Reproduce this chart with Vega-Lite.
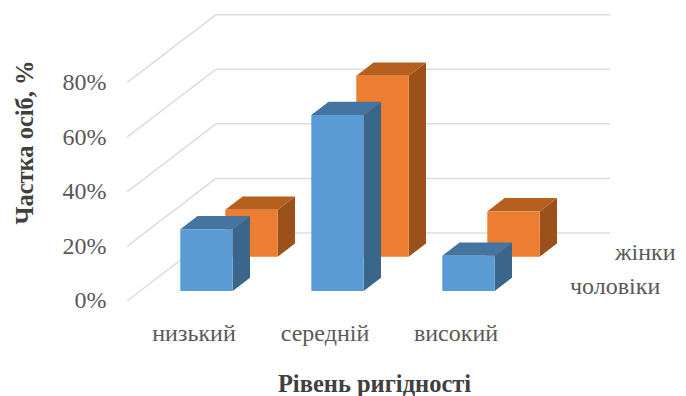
{
  "$schema": "https://vega.github.io/schema/vega-lite/v6.json",
  "width": 686,
  "height": 396,
  "padding": 0,
  "autosize": {"type": "none"},
  "background": "white",
  "config": {"view": {"stroke": null}},
  "datasets": {
    "bars": [
      {"category": "низький", "series": "чоловіки", "value": 22.6},
      {"category": "середній", "series": "чоловіки", "value": 64.5},
      {"category": "високий", "series": "чоловіки", "value": 12.9},
      {"category": "низький", "series": "жінки", "value": 17.2},
      {"category": "середній", "series": "жінки", "value": 66.3},
      {"category": "високий", "series": "жінки", "value": 16.6}
    ],
    "levels": [{"level": 0}, {"level": 20}, {"level": 40}, {"level": 60}, {"level": 80}],
    "names": [{"series": "чоловіки"}, {"series": "жінки"}]
  },
  "layer": [
    {
      "description": "Floor and side wall lines running into the depth of the box, with the value axis",
      "data": {"name": "levels"},
      "transform": [
        {"calculate": "0.393", "as": "xa"},
        {"calculate": "1.0725", "as": "xb"},
        {"calculate": "datum.level + 24.9", "as": "backLevel"}
      ],
      "mark": {"type": "rule", "color": "#dcdcdc", "strokeWidth": 1.5},
      "encoding": {
        "x": {
          "field": "xa", "type": "quantitative",
          "scale": {"domain": [-0.5763, 4.6603], "nice": false, "zero": false},
          "axis": {
            "values": [1, 2, 3], "orient": "bottom", "offset": -75, "domain": false, "ticks": false, "grid": false,
            "labelExpr": "['низький','середній','високий'][datum.value - 1]",
            "labelFont": "Liberation Serif", "labelFontSize": 24, "labelColor": "#595959", "labelPadding": 0,
            "labelOffset": -13, "labelBaseline": "top",
            "title": "Рівень ригідності", "titleFont": "Liberation Serif", "titleFontSize": 24.5, "titleFontWeight": "bold",
            "titleColor": "#404040", "titleX": 374, "titleY": 63, "titleBaseline": "middle", "titleAlign": "center"
          }
        },
        "x2": {"field": "xb"},
        "y": {
          "field": "level", "type": "quantitative",
          "scale": {"domain": [-34.8, 110.26], "nice": false, "zero": false},
          "axis": {
            "values": [0, 20, 40, 60, 80], "orient": "left", "offset": -108, "domain": false, "ticks": false, "grid": false,
            "labelExpr": "datum.value + '%'",
            "labelFont": "Liberation Serif", "labelFontSize": 24, "labelColor": "#595959", "labelPadding": 2,
            "title": "Частка осіб, %", "titleFont": "Liberation Serif", "titleFontSize": 24.5, "titleFontWeight": "bold",
            "titleColor": "#404040", "titleX": -83, "titleY": 142, "titleBaseline": "middle", "titleAlign": "center", "titleAngle": 270
          }
        },
        "y2": {"field": "backLevel"}
      }
    },
    {
      "description": "Back wall gridlines",
      "data": {"name": "levels"},
      "transform": [
        {"calculate": "1.0725", "as": "xb"},
        {"calculate": "4.08", "as": "xc"},
        {"calculate": "datum.level + 24.9", "as": "backLevel"}
      ],
      "mark": {"type": "rule", "color": "#dcdcdc", "strokeWidth": 1.5},
      "encoding": {
        "x": {"field": "xb", "type": "quantitative"},
        "x2": {"field": "xc"},
        "y": {"field": "backLevel", "type": "quantitative"}
      }
    },
    {
      "description": "Rear row (women) then front row (men), each drawn side, top, front",
      "data": {"name": "bars"},
      "transform": [
        {"calculate": "indexof(['низький','середній','високий'], datum.category) + 1", "as": "idx"},
        {"calculate": "datum.series === 'жінки' ? 1 : 0", "as": "rear"},
        {"calculate": "datum.idx - 0.2 + datum.rear * 0.3435", "as": "x0"},
        {"calculate": "datum.x0 + 0.4", "as": "x1"},
        {"calculate": "3.66 + datum.rear * 12.56", "as": "base"},
        {"calculate": "datum.base + datum.value", "as": "top"}
      ],
      "layer": [
        {
          "transform": [{"filter": "datum.rear === 1"}],
          "layer": [
            {
              "transform": [
                {"calculate": "[0, 1]", "as": "t"},
                {"flatten": ["t"]},
                {"calculate": "datum.x1 + datum.t * 0.132", "as": "px"},
                {"calculate": "datum.base + datum.t * 4.87", "as": "lo"},
                {"calculate": "datum.top + datum.t * 4.87", "as": "hi"}
              ],
              "mark": {"type": "area", "color": "#9a521a", "orient": "vertical"},
              "encoding": {
                "x": {"field": "px", "type": "quantitative"},
                "y": {"field": "lo", "type": "quantitative"},
                "y2": {"field": "hi"},
                "detail": {"field": "category"}
              }
            },
            {
              "transform": [
                {"calculate": "[datum.x0, datum.x0 + 0.132, datum.x1, datum.x1 + 0.132]", "as": "px"},
                {"calculate": "[datum.top, datum.top, datum.top, datum.top + 4.87]", "as": "lo"},
                {"calculate": "[datum.top, datum.top + 4.87, datum.top + 4.87, datum.top + 4.87]", "as": "hi"},
                {"flatten": ["px", "lo", "hi"]}
              ],
              "mark": {"type": "area", "color": "#b5601f", "orient": "vertical"},
              "encoding": {
                "x": {"field": "px", "type": "quantitative"},
                "y": {"field": "lo", "type": "quantitative"},
                "y2": {"field": "hi"},
                "detail": {"field": "category"}
              }
            },
            {
              "mark": {"type": "rect", "color": "#ed7d31"},
              "encoding": {
                "x": {"field": "x0", "type": "quantitative"},
                "x2": {"field": "x1"},
                "y": {"field": "base", "type": "quantitative"},
                "y2": {"field": "top"}
              }
            }
          ]
        },
        {
          "transform": [{"filter": "datum.rear === 0"}],
          "layer": [
            {
              "transform": [
                {"calculate": "[0, 1]", "as": "t"},
                {"flatten": ["t"]},
                {"calculate": "datum.x1 + datum.t * 0.132", "as": "px"},
                {"calculate": "datum.base + datum.t * 4.87", "as": "lo"},
                {"calculate": "datum.top + datum.t * 4.87", "as": "hi"}
              ],
              "mark": {"type": "area", "color": "#3a668c", "orient": "vertical"},
              "encoding": {
                "x": {"field": "px", "type": "quantitative"},
                "y": {"field": "lo", "type": "quantitative"},
                "y2": {"field": "hi"},
                "detail": {"field": "category"}
              }
            },
            {
              "transform": [
                {"calculate": "[datum.x0, datum.x0 + 0.132, datum.x1, datum.x1 + 0.132]", "as": "px"},
                {"calculate": "[datum.top, datum.top, datum.top, datum.top + 4.87]", "as": "lo"},
                {"calculate": "[datum.top, datum.top + 4.87, datum.top + 4.87, datum.top + 4.87]", "as": "hi"},
                {"flatten": ["px", "lo", "hi"]}
              ],
              "mark": {"type": "area", "color": "#44749f", "orient": "vertical"},
              "encoding": {
                "x": {"field": "px", "type": "quantitative"},
                "y": {"field": "lo", "type": "quantitative"},
                "y2": {"field": "hi"},
                "detail": {"field": "category"}
              }
            },
            {
              "mark": {"type": "rect", "color": "#5b9bd5"},
              "encoding": {
                "x": {"field": "x0", "type": "quantitative"},
                "x2": {"field": "x1"},
                "y": {"field": "base", "type": "quantitative"},
                "y2": {"field": "top"}
              }
            }
          ]
        }
      ]
    },
    {
      "description": "Depth axis labels naming the two rows",
      "data": {"name": "names"},
      "transform": [
        {"calculate": "datum.series === 'жінки' ? 1 : 0", "as": "rear"},
        {"calculate": "3.775 + datum.rear * 0.3435", "as": "lx"},
        {"calculate": "5.13 + datum.rear * 12.56", "as": "ly"}
      ],
      "mark": {"type": "text", "font": "Liberation Serif", "fontSize": 24, "color": "#595959", "align": "left", "baseline": "middle"},
      "encoding": {
        "x": {"field": "lx", "type": "quantitative"},
        "y": {"field": "ly", "type": "quantitative"},
        "text": {"field": "series"}
      }
    }
  ]
}
